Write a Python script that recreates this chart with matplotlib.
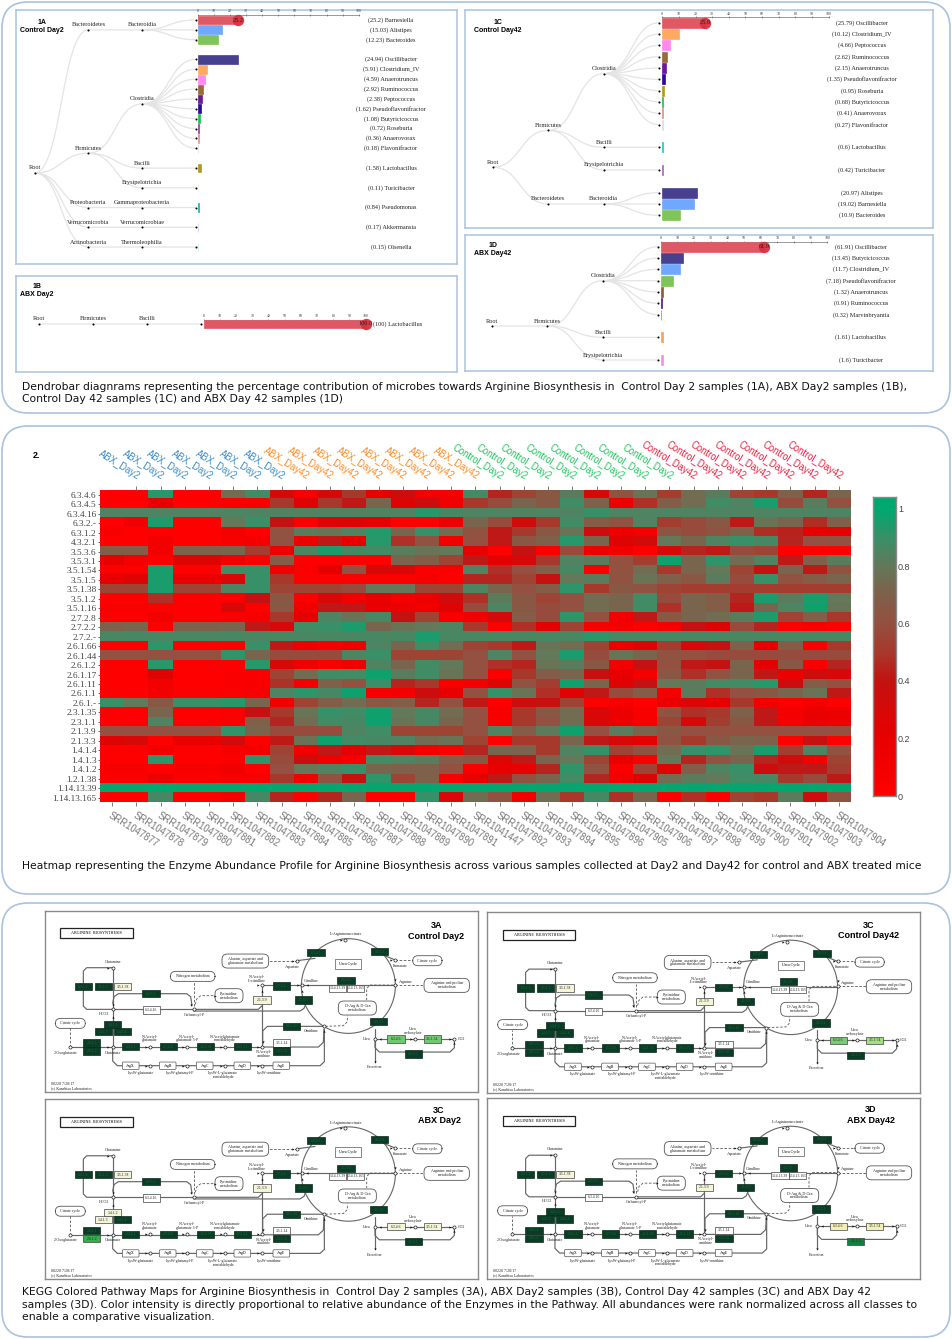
import numpy as np
import matplotlib
matplotlib.use("Agg")
import matplotlib.pyplot as plt
from matplotlib.colors import LinearSegmentedColormap
from matplotlib.patches import FancyBboxPatch, Ellipse, PathPatch, Rectangle
from matplotlib.path import Path

W, H = 953, 1339
BORDER = "#a9c2e0"

# ---- dendrobar data ----
A_PHYLUM = ["Bacteroidetes"] * 3 + ["Firmicutes"] * 12 + ["Proteobacteria", "Verrucomicrobia", "Actinobacteria"]
A_CLASS = ["Bacteroidia"] * 3 + ["Clostridia"] * 10 + ["Bacilli", "Erysipelotrichia", "Gammaproteobacteria", "Verrucomicrobiae", "Thermoleophilia"]
A_GENUS = ["Barnesiella", "Alistipes", "Bacteroides", "Oscillibacter", "Clostridium_IV", "Anaerotruncus", "Ruminococcus",
           "Peptococcus", "Pseudoflavonifractor", "Butyricicoccus", "Roseburia", "Anaerovorax", "Flavonifractor",
           "Lactobacillus", "Turicibacter", "Pseudomonas", "Akkermansia", "Olsenella"]
A_VALUES = [25.2, 15.03, 12.23, 24.94, 5.91, 4.59, 2.92, 2.38, 1.62, 1.08, 0.72, 0.36, 0.18, 1.58, 0.11, 0.84, 0.17, 0.15]
A_COLOURS = ["#de5964", "#70a8ff", "#7ec458", "#47408f", "#ffaa60", "#ff88ee", "#9a6a3a", "#6a1a9a", "#2a0a9a", "#20c050",
             "#9a3a9a", "#e09090", "#dddddd", "#b09a20", "#ecf5e0", "#10b8a8", "#d8d0f5", "#d0f0d8"]

B_PHYLUM = ["Firmicutes"]
B_CLASS = ["Bacilli"]
B_GENUS = ["Lactobacillus"]
B_VALUES = [100]
B_COLOURS = ["#de5964"]

C_PHYLUM = ["Firmicutes"] * 12 + ["Bacteroidetes"] * 3
C_CLASS = ["Clostridia"] * 10 + ["Bacilli", "Erysipelotrichia"] + ["Bacteroidia"] * 3
C_GENUS = ["Oscillibacter", "Clostridium_IV", "Peptococcus", "Ruminococcus", "Anaerotruncus", "Pseudoflavonifractor", "Roseburia",
           "Butyricicoccus", "Anaerovorax", "Flavonifractor", "Lactobacillus", "Turicibacter", "Alistipes", "Barnesiella", "Bacteroides"]
C_VALUES = [25.79, 10.12, 4.66, 2.62, 2.15, 1.35, 0.95, 0.68, 0.41, 0.27, 0.6, 0.42, 20.97, 19.02, 10.9]
C_COLOURS = ["#de5964", "#ffaa60", "#ff88ee", "#9a6a3a", "#6a1a9a", "#2a0a9a", "#b09a20", "#20c050", "#e09090", "#dddddd",
             "#20c8c0", "#b060c0", "#47408f", "#70a8ff", "#7ec458"]

D_PHYLUM = ["Firmicutes"] * 9
D_CLASS = ["Clostridia"] * 7 + ["Bacilli", "Erysipelotrichia"]
D_GENUS = ["Oscillibacter", "Butyricicoccus", "Clostridium_IV", "Pseudoflavonifractor", "Anaerotruncus", "Ruminococcus",
           "Marvinbryantia", "Lactobacillus", "Turicibacter"]
D_VALUES = [61.91, 13.45, 11.7, 7.18, 1.32, 0.91, 0.32, 1.61, 1.6]
D_COLOURS = ["#de5964", "#47408f", "#70a8ff", "#7ec458", "#9a5a2a", "#4a1a8a", "#9a70d0", "#ffa050", "#ff88ee"]

SCALE_TICKS = list(range(0, 101, 10))

# ---- heatmap data ----
ENZYMES = ["6.3.4.6", "6.3.4.5", "6.3.4.16", "6.3.2.-", "6.3.1.2", "4.3.2.1", "3.5.3.6", "3.5.3.1", "3.5.1.54", "3.5.1.5",
           "3.5.1.38", "3.5.1.2", "3.5.1.16", "2.7.2.8", "2.7.2.2", "2.7.2.-", "2.6.1.66", "2.6.1.44", "2.6.1.2", "2.6.1.17",
           "2.6.1.11", "2.6.1.1", "2.6.1.-", "2.3.1.35", "2.3.1.1", "2.1.3.9", "2.1.3.3", "1.4.1.4", "1.4.1.3", "1.4.1.2",
           "1.2.1.38", "1.14.13.39", "1.14.13.165"]
SAMPLES = ["SRR1047877", "SRR1047878", "SRR1047879", "SRR1047880", "SRR1047881", "SRR1047882", "SRR1047883", "SRR1047884",
           "SRR1047885", "SRR1047886", "SRR1047887", "SRR1047888", "SRR1047889", "SRR1047890", "SRR1047891", "SRR1041447",
           "SRR1047892", "SRR1047893", "SRR1047894", "SRR1047895", "SRR1047896", "SRR1047905", "SRR1047906", "SRR1047897",
           "SRR1047898", "SRR1047899", "SRR1047900", "SRR1047901", "SRR1047902", "SRR1047903", "SRR1047904"]
TOP_GROUPS = ["ABX_Day2"] * 7 + ["ABX_Day42"] * 8 + ["Control_Day2"] * 8 + ["Control_Day42"] * 7
GROUP_COLOURS = {"ABX_Day2": "#3a8cc8", "ABX_Day42": "#ff8c26", "Control_Day2": "#22c55e", "Control_Day42": "#ee2040"}

ABUNDANCE = [
    [0, 0, .93, 0, 0, .75, .88, .3, .05, .3, .5, .2, .35, .1, .1, .88, .45, .55, .65, .82, .3, .62, .78, .52, .75, .82, .55, .5, .7, .45, .72],
    [0, 0, .2, 0, 0, .05, .05, .5, .25, .5, .42, .72, .25, .35, .12, .5, .58, .72, .65, .88, .7, .15, .48, .68, .75, .88, .85, .95, .58, .82, .6],
    [.85, .85, .85, .85, .85, .85, .85, .85, .85, .85, .85, .85, .85, .93, .87, .85, .85, .85, .85, .85, .9, .85, .85, .85, .85, .85, .85, .85, .85, .85, .85],
    [0, .1, .95, 0, 0, .8, .9, .4, .02, .25, .25, .2, 0, 0, .15, .72, .58, .33, .5, .88, .68, .62, .85, .52, .58, .65, .42, .78, .72, .47, .7],
    [.05, 0, 0, 0, 0, .1, 0, .62, .82, .78, .85, .93, .72, .9, .75, .62, .42, .5, .65, .78, .33, .15, .1, .62, .58, .62, .7, .47, .44, .2, .22],
    [0, 0, .1, 0, 0, .05, .08, .62, .15, .42, .2, .93, .48, .62, .12, .6, .42, .65, .7, .93, .72, .25, .32, .8, .72, .85, .9, .87, .45, .6, .62],
    [.68, .68, .1, .7, .7, .72, .52, .15, .85, .95, .87, .88, .82, .78, .8, .2, 0, .4, .02, .58, .15, .12, 0, .3, .45, .42, .58, .55, 0, 0, 0],
    [.2, .1, 0, .25, .25, .1, 0, .68, 0, 0, 0, 0, .72, .68, .55, .42, .22, .3, .5, .85, .82, .6, .52, .97, .72, .92, .75, .85, .42, .7, .82],
    [.02, .02, .95, 0, 0, .88, .9, .12, .03, .22, .62, .3, .28, .05, .05, .85, .48, .6, .7, .87, .05, .62, .75, .5, .72, .8, .55, .38, .72, .42, .62],
    [.2, .25, .95, .18, .18, .28, .9, .5, 0, 0, .02, .02, .02, .05, 0, .45, .45, .55, .38, .8, .82, .62, .78, .7, .65, .82, .58, .9, .62, .68, .72],
    [.55, .55, .95, .55, .55, .85, .9, .55, .55, .55, .58, .8, .8, .55, .55, .85, .72, .6, .68, .92, .5, .65, .62, .55, .52, .52, .52, .52, .52, .52, .52],
    [0, 0, .48, 0, 0, .03, .4, .65, .03, .28, .1, .2, .1, .15, .33, .48, .82, .65, .55, .6, .75, .72, .88, .58, .72, .68, .45, .95, .82, .95, .8],
    [.03, .03, 0, 0, 0, .3, 0, .65, .12, .42, .42, .2, .15, .12, .25, .58, .85, .65, .58, .6, .75, .72, .88, .48, .72, .68, .42, .72, .85, .97, .78],
    [0, 0, .1, 0, 0, .03, .05, .5, .2, .85, .78, .87, .4, .55, .05, .1, .32, .68, .58, .92, .6, .1, .42, .65, .72, .75, .82, .95, .55, .7, .5],
    [.7, .72, 0, .7, .7, .72, .42, .3, .88, .9, .95, .72, .78, .8, .85, .5, 0, .48, .22, .55, .05, .1, 0, .05, .4, .25, .58, .45, 0, .05, 0],
    [.86, .86, .86, .86, .86, .86, .86, .86, .86, .86, .86, .86, .86, .95, .86, .86, .86, .86, .86, .86, .92, .86, .86, .86, .86, .86, .86, .86, .86, .86, .86],
    [0, 0, .92, 0, 0, 0, .9, .42, .15, .05, .12, .85, .72, .88, .75, .55, .5, .42, .78, .75, .55, .15, .25, .52, .3, .4, .7, .2, .68, .02, .5],
    [.6, .6, .6, .6, .6, .92, .72, .58, .58, .58, .85, .9, .55, .55, .55, .6, .85, .62, .8, .95, .58, .78, .72, .62, .6, .58, .58, .58, .58, .58, .58],
    [0, 0, .93, 0, 0, 0, .93, .3, .12, .02, .12, .85, .72, .88, .8, .6, .48, .45, .78, .82, .65, .1, .4, .6, .42, .4, .72, .22, .65, .03, .45],
    [0, 0, .25, 0, 0, .03, .03, .55, .75, .88, .88, .97, .82, .88, .78, .6, .02, .5, .68, .72, .38, .2, .08, .65, .48, .62, .72, .42, .15, .35, .28],
    [0, 0, .1, 0, 0, .03, .05, .48, .08, .7, .6, .9, .45, .5, .05, .1, .25, .62, .52, .97, .72, .25, .4, .8, .82, .88, .88, .93, .35, .68, .6],
    [0, 0, .1, 0, 0, .03, .05, .85, .92, .87, .97, .08, .08, .35, .2, .6, .9, .78, .48, .25, .42, .58, .68, .1, .82, .48, .6, .65, .72, .78, .42],
    [.9, .8, .65, .9, .9, .93, .72, .12, .55, .68, .75, .65, .68, .45, .6, .42, 0, .35, .38, .55, 0, .05, 0, .18, .28, .2, .5, .1, .02, .08, 0],
    [0, 0, .72, 0, 0, .03, .38, .5, .78, .9, .88, .97, .8, .87, .75, .6, .05, .5, .65, .75, .28, .15, .05, .62, .48, .5, .7, .42, .08, .18, .15],
    [0, 0, .85, 0, 0, .03, .7, .45, .75, .88, .87, .97, .78, .87, .72, .6, .05, .5, .6, .75, .28, .15, .05, .55, .3, .52, .65, .42, .08, .18, .15],
    [.6, .6, .6, .6, .6, .92, .72, .58, .58, .58, .85, .88, .55, .55, .55, .6, .85, .68, .82, .97, .6, .82, .72, .65, .6, .6, .6, .6, .6, .6, .6],
    [.25, .3, 0, .2, .2, .32, 0, .42, .78, .97, .88, .87, .85, .75, .78, .55, 0, .5, .5, .72, .42, .3, .22, .62, .5, .65, .72, .7, 0, .38, 0],
    [0, 0, .12, 0, 0, .05, .08, .55, .12, .42, .22, .42, .3, .08, .02, .45, .72, .72, .5, .85, .9, .55, .62, .75, .9, .92, .78, .95, .52, .85, .62],
    [0, 0, .92, 0, 0, .03, .92, .58, .35, .12, .05, .88, .85, .82, .68, .65, .25, .42, .72, .8, .55, .2, .03, .8, .45, .62, .72, .45, .33, .1, .55],
    [.05, .05, 0, .05, .05, .12, 0, .6, .8, .85, .9, .72, .7, .7, .6, .05, .2, .2, .45, .92, .62, .05, .55, .25, .68, .85, .9, .35, .42, .42, .52],
    [.02, .02, .15, .02, .02, .05, .05, .5, .1, .62, .38, .92, .55, .7, .05, .2, .42, .62, .72, .88, .45, .1, .25, .75, .82, .8, .88, .87, .5, .58, .42],
    [.99] * 31,
    [0, 0, .87, 0, 0, .1, .87, .45, 0, .45, .72, .02, 0, .9, .28, .75, .62, .12, .75, .5, .87, .48, .72, 0, .48, 0, .55, .5, .82, .35, .62],
]
COLORBAR_TICKS = [0, 0.2, 0.4, 0.6, 0.8, 1]
COLORBAR_LABELS = ["0", "0.2", "0.4", "0.6", "0.8", "1"]

# ---- pathway colouring per map: enzyme -> fill ----
DARK, CREAM, WHITE = "#0b3d26", "#f4f4d8", "#ffffff"
PATHWAY_ENZYMES = ["6.3.5.5", "1.4.1.2", "1.4.1.3", "1.4.1.4", "2.6.1.1", "2.6.1.2", "2.3.1.1", "2.7.2.8", "1.2.1.38", "2.6.1.11",
                   "3.5.1.14", "2.3.1.35", "3.5.1.16", "2.7.2.2", "2.1.3.9", "2.1.3.3", "6.3.4.5", "4.3.2.1", "3.5.3.1", "3.5.3.6",
                   "1.14.13.39", "1.14.13.165", "6.3.4.6", "3.5.1.54", "3.5.1.5", "6.3.1.2", "3.5.1.2", "3.5.1.38", "6.3.4.16"]
BASE_LIGHT = {"3.5.1.38": CREAM, "6.3.4.16": WHITE, "2.1.3.9": CREAM, "1.14.13.39": WHITE, "1.14.13.165": WHITE, "3.5.1.14": WHITE}
MAP_3A = {"6.3.4.6": "#70c870", "3.5.1.54": "#70c870"}
MAP_3C = {"6.3.4.6": "#78cc78", "3.5.1.54": "#a0e080"}
MAP_3B = {"1.4.1.2": CREAM, "1.4.1.3": CREAM, "2.6.1.2": "#32b04a", "6.3.4.6": CREAM, "3.5.1.54": CREAM}
MAP_3D = {"6.3.4.6": "#f2efb8", "3.5.1.54": "#f2efb8", "3.5.1.5": "#0f8040"}

CAPTION_1 = ["Dendrobar diagnrams representing the percentage contribution of microbes towards Arginine Biosynthesis in  Control Day 2 samples (1A), ABX Day2 samples (1B),",
             "Control Day 42 samples (1C) and ABX Day 42 samples (1D)"]
CAPTION_2 = ["Heatmap representing the Enzyme Abundance Profile for Arginine Biosynthesis across various samples collected at Day2 and Day42 for control and ABX treated mice"]
CAPTION_3 = ["KEGG Colored Pathway Maps for Arginine Biosynthesis in  Control Day 2 samples (3A), ABX Day2 samples (3B), Control Day 42 samples (3C) and ABX Day 42",
             "samples (3D). Color intensity is directly proportional to relative abundance of the Enzymes in the Pathway. All abundances were rank normalized across all classes to",
             "enable a comparative visualization."]

SERIF = "Liberation Serif"
SANS = "Liberation Sans"

fig = plt.figure(figsize=(W / 100, H / 100), dpi=100, facecolor="white")


def pixel_axes(x0, y0, x1, y1):
    return fig.add_axes([x0 / W, 1 - y1 / H, (x1 - x0) / W, (y1 - y0) / H])


def link(ax, x0, y0, x1, y1):
    xm = (x0 + x1) / 2
    verts = [(x0, y0), (xm, y0), (xm, y1), (x1, y1)]
    codes = [Path.MOVETO, Path.CURVE4, Path.CURVE4, Path.CURVE4]
    ax.add_patch(PathPatch(Path(verts, codes), fc="none", ec="#e4e4e4", lw=0.9, zorder=1))


def draw_dendrobar(box, bar0, bar100, first_y, step, root_x, leaf_x, label_x, axis_gap,
                   phylum, cls, genus, values, colours, title, title_xy, shown):
    x0, y0, x1, y1 = box
    unit = (bar100 - bar0) / 100
    ax = pixel_axes(x0, y0, x1, y1)
    ax.set_xlim((x0 - bar0) / unit, (x1 - bar0) / unit)
    ax.set_ylim((y1 - first_y) / step, (y0 - first_y) / step)
    ax.set_xticks([])
    ax.set_yticks([])
    for s in ax.spines.values():
        s.set_color(BORDER)
        s.set_linewidth(1.1)

    # slots: one step inside a class, two between classes
    slots = [0]
    for i in range(1, len(genus)):
        slots.append(slots[-1] + (1 if cls[i] == cls[i - 1] else 2))
    slots = np.array(slots, dtype=float)

    gap = (leaf_x - root_x) / 3 / unit
    xr = (root_x - bar0) / unit
    xp, xc, xl = xr + gap, xr + 2 * gap, xr + 3 * gap

    class_names = list(dict.fromkeys(cls))
    phylum_names = list(dict.fromkeys(phylum))
    class_y = {c: slots[[i for i, k in enumerate(cls) if k == c]].mean() for c in class_names}
    phylum_y = {}
    for p in phylum_names:
        kids = list(dict.fromkeys(c for c, q in zip(cls, phylum) if q == p))
        phylum_y[p] = np.mean([class_y[c] for c in kids])
    root_y = np.mean(list(phylum_y.values()))

    label_up = 5 / step
    for p in phylum_names:
        link(ax, xr, root_y, xp, phylum_y[p])
        ax.text(xp, phylum_y[p] - label_up, p, family=SERIF, fontsize=4.5, ha="center", va="center", color="#222")
    for c, p in dict(zip(cls, phylum)).items():
        link(ax, xp, phylum_y[p], xc, class_y[c])
        ax.text(xc, class_y[c] - label_up, c, family=SERIF, fontsize=4.5, ha="center", va="center", color="#222")
    for c, y in zip(cls, slots):
        link(ax, xc, class_y[c], xl, y)
    ax.text(xr, root_y - label_up, "Root", family=SERIF, fontsize=4.5, ha="center", va="center", color="#222")

    node_x = [xr] + [xp] * len(phylum_names) + [xc] * len(class_names) + [xl] * len(genus)
    node_y = [root_y] + [phylum_y[p] for p in phylum_names] + [class_y[c] for c in class_names] + list(slots)
    ax.scatter(node_x, node_y, s=2.2, color="black", zorder=4, linewidths=0)

    ax.barh(slots, values, height=0.9, color=colours, edgecolor=colours, linewidth=0.5, zorder=3)
    for y, g, v in zip(slots, genus, values):
        text = f"({v:g}) {g}"
        ax.text((label_x - bar0) / unit, y, text, family=SERIF, fontsize=4.5, ha="center", va="center", color="#222")

    # value scale on top
    ya = -axis_gap / step
    ax.plot([0, 100], [ya, ya], color="#999999", lw=0.7, zorder=2)
    ax.plot(SCALE_TICKS, [ya] * len(SCALE_TICKS), ls="none", marker="|", ms=1.5, mew=0.4, color="#555555", zorder=2)
    for t in SCALE_TICKS:
        ax.text(t, ya - 3.6 / step, str(t), family=SERIF, fontsize=2.8, ha="center", va="center", color="#333")

    # circle with the largest value at the tip of the first bar
    ax.plot([values[0]], [slots[0]], marker="o", ms=8.2, color="#d9313f", mew=0, alpha=0.95, zorder=4)
    ax.text(values[0], slots[0], shown, family=SERIF, fontsize=4.6, ha="center", va="center", color="#222", zorder=5)

    # titles
    tx, ty = title_xy
    ax.text((tx - bar0) / unit, (ty - first_y) / step, title[0], family=SANS, fontsize=5, weight="bold", ha="center", va="center")
    ax.text((tx - bar0) / unit, (ty + 8 - first_y) / step, title[1], family=SANS, fontsize=5, weight="bold", ha="center", va="center")


def enzyme_box(ax, x, y, name, fills):
    fill = fills.get(name, DARK)
    dark = fill == DARK
    ax.add_patch(Rectangle((x - 26, y - 11), 52, 22, fc=fill, ec="#444444" if not dark else "#0a2a1c", lw=0.5, zorder=5))
    ax.text(x, y, name, family=SERIF, fontsize=2.7, ha="center", va="center",
            color="#1a6a45" if dark else "#222222", zorder=6)


def oval_box(ax, x, y, w, h, text):
    ax.add_patch(FancyBboxPatch((x - w / 2 + 10, y - h / 2 + 10), w - 20, h - 20, boxstyle="round,pad=10,rounding_size=16",
                                fc="white", ec="#555555", lw=0.6, zorder=5))
    ax.text(x, y, text, family=SERIF, fontsize=2.9, ha="center", va="center", color="#222", zorder=6, linespacing=0.95)


def draw_pathway(box, title, title_x, title_y, overrides):
    ax = pixel_axes(*box)
    ax.set_xlim(15, 1313)
    ax.set_ylim(560, 17)
    ax.set_xticks([])
    ax.set_yticks([])
    for s in ax.spines.values():
        s.set_color("#8a8a8a")
        s.set_linewidth(1.0)
    fills = dict(BASE_LIGHT)
    fills.update(overrides)

    solid = [
        [(218, 188), (140, 188), (130, 198), (130, 303), (140, 313), (218, 313)],
        [(218, 188), (218, 426)],
        [(218, 313), (461, 313)],
        [(218, 295), (222, 275), (235, 266), (440, 266), (452, 275), (456, 302)],
        [(461, 313), (655, 313), (666, 302)],
        [(461, 318), (780, 318), (792, 310), (798, 295)],
        [(666, 241), (666, 425)],
        [(666, 241), (785, 241)],
        [(785, 241), (1066, 241)],
        [(90, 426), (666, 426)],
        [(666, 426), (835, 426), (850, 412), (852, 372)],
        [(218, 426), (218, 468), (232, 482), (840, 482), (853, 470), (853, 372)],
        [(668, 418), (668, 378), (682, 364), (852, 364)],
        [(1005, 402), (1243, 402)],
        [(1005, 402), (1005, 428), (1018, 441), (1230, 441), (1243, 428), (1243, 402)],
        [(1005, 372), (1005, 470)],
        [(770, 167), (825, 160)],
        [(1066, 165), (1030, 150)],
    ]
    dashed = [
        [(461, 302), (461, 232)],
        [(466, 298), (470, 282), (482, 272), (522, 272)],
        [(770, 167), (688, 167)],
        [(1066, 165), (1118, 165)],
        [(1066, 240), (1152, 240)],
        [(1060, 240), (990, 240), (980, 250), (980, 285)],
        [(856, 364), (910, 362), (922, 350), (922, 332)],
        [(90, 426), (90, 370)],
    ]
    for pts in solid:
        ax.plot(*zip(*pts), color="#666666", lw=0.85, zorder=2, solid_capstyle="round")
    for pts in dashed:
        ax.plot(*zip(*pts), color="#555555", lw=0.6, ls=(0, (3, 2)), zorder=2)
    ax.add_patch(Ellipse((925, 243), 282, 284, fc="none", ec="#666666", lw=0.8, zorder=2))

    # enzymes
    positions = [(333, 266), (218, 359), (190, 380), (247, 380), (155, 414), (155, 438), (272, 425), (385, 425), (496, 425), (607, 425),
                 (725, 414), (725, 438), (755, 364), (724, 243), (666, 285), (790, 285), (828, 143), (1019, 140), (1016, 350), (918, 226),
                 (893, 250), (946, 250), (1068, 402), (1177, 402), (1120, 447), (130, 245), (190, 245), (248, 245), (334, 315)]
    for (x, y), name in zip(positions, PATHWAY_ENZYMES):
        enzyme_box(ax, x, y, name, fills)

    for x, name in zip((272, 383, 494, 607, 724), ("ArgX", "ArgB", "ArgC", "ArgD", "ArgE")):
        ax.add_patch(FancyBboxPatch((x - 22, 474), 44, 16, boxstyle="round,pad=3,rounding_size=3", fc="white", ec="#555555", lw=0.5, zorder=5))
        ax.text(x, 482, name, family=SERIF, fontsize=2.8, ha="center", va="center", zorder=6)

    oval_box(ax, 616, 168, 140, 42, "Alanine, aspartate and\nglutamate metabolism")
    oval_box(ax, 1162, 167, 88, 30, "Citrate cycle")
    oval_box(ax, 458, 214, 134, 30, "Nitrogen metabolism")
    oval_box(ax, 567, 272, 84, 42, "Pyrimidine\nmetabolism")
    oval_box(ax, 1220, 241, 136, 42, "Arginine and proline\nmetabolism")
    oval_box(ax, 952, 309, 114, 42, "D-Arg & D-Orn\nmetabolism")
    oval_box(ax, 91, 355, 90, 30, "Citrate cycle")

    ax.add_patch(Rectangle((886, 163), 78, 28, fc="white", ec="#555555", lw=0.5, zorder=5))
    ax.text(925, 177, "Urea Cycle", family=SERIF, fontsize=2.9, ha="center", va="center", zorder=6)
    ax.add_patch(Rectangle((61, 70), 218, 30, fc="white", ec="#222222", lw=0.9, zorder=5))
    ax.text(170, 85, "ARGININE  BIOSYNTHESIS", family=SERIF, fontsize=3, ha="center", va="center", zorder=6)

    compounds = [(218, 188), (218, 313), (218, 426), (90, 426), (330, 425), (442, 425), (555, 425), (666, 425), (666, 241), (461, 313),
                 (785, 241), (915, 105), (1066, 165), (770, 167), (1066, 240), (852, 364), (1005, 402), (1125, 402), (1243, 402),
                 (330, 482), (442, 482), (555, 482), (666, 482)]
    xs, ys = zip(*compounds)
    ax.scatter(xs, ys, s=5, fc="white", ec="#222222", linewidths=0.5, zorder=7)

    arrows = [(205, 188, ">"), (218, 300, "v"), (218, 335, "^"), (205, 426, ">"), (318, 425, ">"), (430, 425, ">"), (543, 425, ">"), (654, 425, ">"),
              (654, 241, ">"), (773, 241, ">"), (800, 241, "<"), (452, 300, "v"), (851, 378, "^"), (668, 412, "v"), (666, 258, "^"), (785, 258, "^"),
              (903, 105, ">"), (1054, 165, ">"), (758, 167, ">"), (1066, 225, "v"), (1020, 402, "<"), (1113, 402, ">"), (1231, 402, ">"),
              (1005, 470, "v"), (1243, 415, "^"), (318, 482, ">"), (430, 482, ">"), (543, 482, ">"), (654, 482, ">"), (525, 272, ">")]
    for x, y, m in arrows:
        ax.plot([x], [y], marker=m, ms=1.6, color="#111111", mew=0, zorder=7)

    labels = [(218, 170, "Glutamine"), (193, 326, "HCO3"), (218, 443, "Glutamate"), (78, 443, "2-Oxoglutarate"),
              (330, 400, "N-Acetyl-\nglutamate"), (442, 400, "N-Acetyl-\nglutamate 5-P"), (555, 400, "N-Acetylglutamate\nsemialdehyde"),
              (672, 446, "N-Acetyl-\nornithine"), (650, 222, "N-Acetyl-\nL-citrulline"), (462, 330, "Carbamoyl-P"), (814, 228, "Citrulline"),
              (918, 88, "L-Argininosuccinate"), (1080, 183, "Fumarate"), (756, 185, "Aspartate"), (1096, 230, "Arginine"), (815, 378, "Ornithine"),
              (980, 402, "Urea"), (1118, 378, "Urea\ncarboxylate"), (1264, 402, "CO2"), (1003, 487, "Excretion"), (302, 505, "LysW-glutamate"),
              (420, 505, "LysW-glutamyl-P"), (550, 510, "LysW-L-glutamate\nsemialdehyde"), (688, 505, "LysW-ornithine")]
    for x, y, t in labels:
        ax.text(x, y, t, family=SERIF, fontsize=2.9, ha="center", va="center", color="#222", zorder=6, linespacing=0.9)
    ax.text(33, 542, "00220 7/20/17\n(c) Kanehisa Laboratories", family=SERIF, fontsize=2.9, ha="left", va="center", color="#222", linespacing=1)

    ax.text(title_x, title_y, title[0], family=SANS, fontsize=6.5, weight="bold", ha="center", va="center", zorder=8)
    ax.text(title_x, title_y + 31, title[1], family=SANS, fontsize=6.5, weight="bold", ha="center", va="center", zorder=8)


# background panels and captions
bg = fig.add_axes([0, 0, 1, 1])
bg.set_xlim(0, W)
bg.set_ylim(H, 0)
bg.axis("off")
for top, bottom in [(2, 413), (426, 894), (903, 1337)]:
    bg.add_patch(FancyBboxPatch((28, top + 26), 896, bottom - top - 52, boxstyle="round,pad=26,rounding_size=26",
                                fc="white", ec=BORDER, lw=1.2, mutation_aspect=1))
for lines, ys in [(CAPTION_1, [387, 399.5]), (CAPTION_2, [866]), (CAPTION_3, [1292, 1304.5, 1317])]:
    for line, y in zip(lines, ys):
        bg.text(22, y, line, family="DejaVu Sans", fontsize=7.79, ha="left", va="center", color="#111")
bg.text(37, 455, "2.", family=SANS, fontsize=6.5, weight="bold", ha="center", va="center")

# dendrobars
draw_dendrobar((16, 10, 457, 264), 198, 358.7, 20, 9.87, 34.7, 195.8, 391, 5,
               A_PHYLUM, A_CLASS, A_GENUS, A_VALUES, A_COLOURS, ("1A", "Control Day2"), (42, 22), "25.2")
draw_dendrobar((16, 275.7, 457, 371.7), 203.7, 365.7, 324, 9.87, 39, 201, 397.7, 4,
               B_PHYLUM, B_CLASS, B_GENUS, B_VALUES, B_COLOURS, ("1B", "ABX Day2"), (37, 286.7), "100.0")
draw_dendrobar((465, 10, 932.7, 228), 662.3, 828.7, 22.7, 11.33, 492.7, 659.3, 861.7, 5.4,
               C_PHYLUM, C_CLASS, C_GENUS, C_VALUES, C_COLOURS, ("1C", "Control Day42"), (498, 22.5), "25.8")
draw_dendrobar((465, 235, 932.7, 371.3), 660.7, 827.3, 246.7, 11.33, 492, 658.3, 860.7, 5,
               D_PHYLUM, D_CLASS, D_GENUS, D_VALUES, D_COLOURS, ("1D", "ABX Day42"), (493, 245.7), "61.9")

# heatmap
stops = [(0, "#ff0000"), (.2, "#e80000"), (.4, "#c41212"), (.5, "#a8392c"), (.6, "#945040"),
         (.7, "#80604a"), (.8, "#64785a"), (.9, "#3a9068"), (1, "#00a870")]
cmap = LinearSegmentedColormap.from_list("abundance", stops)
hm = pixel_axes(100, 490, 851, 802.3)
hm.imshow(np.array(ABUNDANCE), cmap=cmap, vmin=0, vmax=1, aspect="auto", interpolation="nearest")
hm.set_yticks(range(len(ENZYMES)), labels=ENZYMES, family=SERIF, fontsize=6.7, color="#444444")
hm.tick_params(axis="y", length=1.5, width=0.6, pad=1, color="#555555")
hm.set_xticks(range(len(SAMPLES)))
hm.set_xticklabels(SAMPLES, rotation=-32, ha="left", va="top", rotation_mode="anchor", family=SANS, fontsize=6.85, color="#777777")
hm.tick_params(axis="x", length=3, width=0.6, pad=2.5, color="#666666")
for s in hm.spines.values():
    s.set_visible(False)
top = hm.secondary_xaxis("top")
top.set_xticks(range(1, len(TOP_GROUPS) + 1))
top.set_xticklabels(TOP_GROUPS, rotation=-32, ha="right", va="bottom", rotation_mode="anchor", family=SANS, fontsize=6.85)
for label, group in zip(top.get_xticklabels(), TOP_GROUPS):
    label.set_color(GROUP_COLOURS[group])
top.tick_params(axis="x", length=3, width=0.6, pad=3, color="#666666")
top.spines["top"].set_visible(False)

cb = pixel_axes(873, 497, 896, 796)
cb.imshow(np.linspace(1.04, 0, 256).reshape(-1, 1), cmap=cmap, vmin=0, vmax=1, aspect="auto", extent=(0, 1, 0, 1.04))
cb.set_xticks([])
cb.yaxis.tick_right()
cb.set_yticks(COLORBAR_TICKS, labels=COLORBAR_LABELS, family=SANS, fontsize=6.5, color="#444444")
cb.tick_params(axis="y", length=0, pad=1.5)
for s in cb.spines.values():
    s.set_color("#8a8a8a")
    s.set_linewidth(1)

# pathway maps
draw_pathway((45, 910.7, 477.7, 1091.7), ("3A", "Control Day2"), 1189, 62, MAP_3A)
draw_pathway((487.3, 912.3, 920, 1092.7), ("3C", "Control Day42"), 1160, 57, MAP_3C)
draw_pathway((45, 1099, 477.7, 1279.3), ("3C", "ABX Day2"), 1197, 52, MAP_3B)
draw_pathway((487.3, 1098.3, 920, 1279), ("3D", "ABX Day42"), 1166, 52, MAP_3D)

fig.savefig("out.png", dpi=100)
